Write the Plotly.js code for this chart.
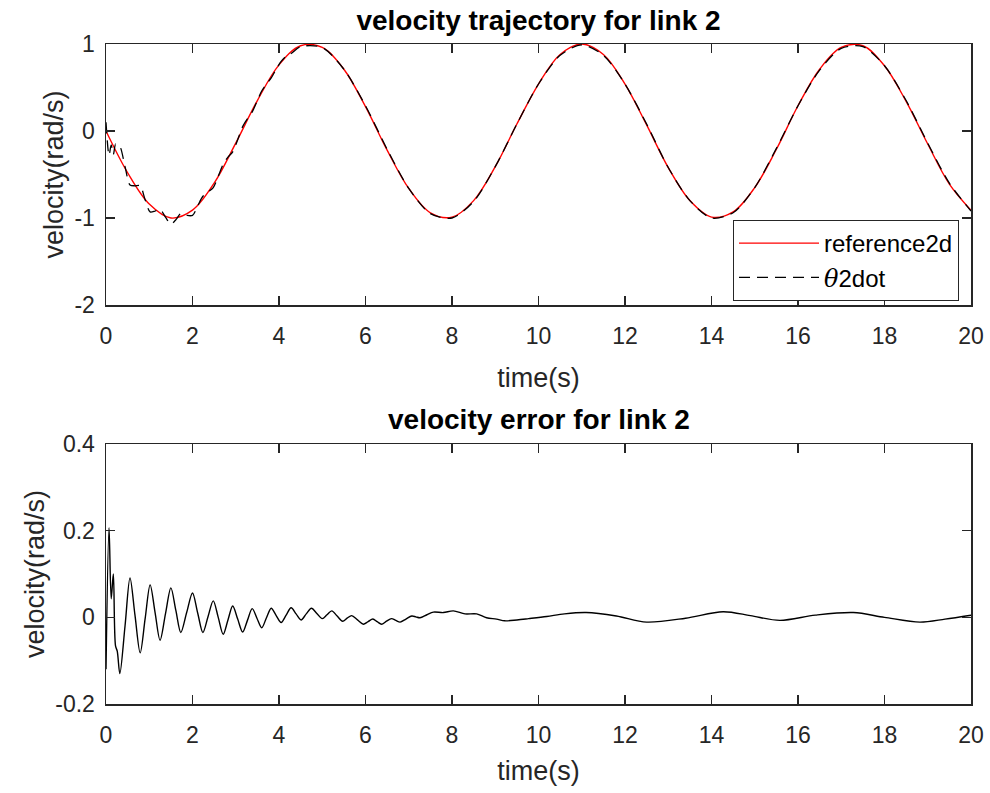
<!DOCTYPE html>
<html>
<head>
<meta charset="utf-8">
<script src="https://cdn.plot.ly/plotly-3.0.1.min.js"></script>
<style>
  html, body { margin: 0; padding: 0; background: #ffffff; }
  #chart { width: 990px; height: 793px; }
</style>
</head>
<body>
<div id="chart"></div>
<script>
// ---- data ----
const refTime = [0,0.5,1,1.5,2,2.5,3,3.5,4,4.5,5,5.5,6,6.5,7,7.5,8,8.5,9,9.5,10,10.5,11,11.5,12,12.5,13,13.5,14,14.5,15,15.5,16,16.5,17,17.5,18,18.5,19,19.5,20];
const reference2d = [0,-0.48,-0.84,-1.00,-0.91,-0.60,-0.14,0.35,0.76,0.98,0.96,0.71,0.28,-0.22,-0.66,-0.94,-0.99,-0.80,-0.41,0.08,0.54,0.88,1.00,0.88,0.54,0.07,-0.42,-0.80,-0.99,-0.93,-0.65,-0.21,0.29,0.71,0.96,0.98,0.75,0.34,-0.15,-0.61,-0.91];

const thetaTime = [0,0.07,0.12,0.17,0.22,0.26,0.32,0.44,0.555,0.67,0.79,0.905,1.02,1.135,1.25,1.375,1.5,1.615,1.73,1.865,2.0,2.12,2.24,2.36,2.48,2.595,2.71,2.82,2.93,3.045,3.16,3.27,3.38,3.49,3.6,3.71,3.82,3.935,4.05,4.165,4.28,4.5,5,5.5,6,6.5,7,7.5,8,8.5,9,9.5,10,10.5,11,11.5,12,12.5,13,13.5,14,14.5,15,15.5,16,16.5,17,17.5,18,18.5,19,19.5,20];
const theta2dot = [0.10,-0.28,-0.16,-0.27,-0.15,-0.18,-0.18,-0.41,-0.62,-0.63,-0.63,-0.79,-0.93,-0.92,-0.90,-0.99,-1.07,-1.02,-0.95,-0.97,-0.97,-0.86,-0.75,-0.70,-0.65,-0.52,-0.38,-0.30,-0.24,-0.10,0.05,0.14,0.22,0.34,0.46,0.54,0.61,0.71,0.80,0.86,0.89,0.97,0.96,0.71,0.29,-0.21,-0.66,-0.95,-1.00,-0.81,-0.41,0.08,0.54,0.87,0.99,0.87,0.54,0.08,-0.42,-0.80,-1.00,-0.94,-0.65,-0.20,0.29,0.70,0.95,0.97,0.75,0.35,-0.14,-0.60,-0.92];

const errTime = [0,0.07,0.12,0.17,0.22,0.26,0.32,0.44,0.555,0.67,0.79,0.905,1.02,1.135,1.25,1.375,1.5,1.615,1.73,1.865,2.0,2.12,2.24,2.36,2.48,2.595,2.71,2.82,2.93,3.045,3.16,3.27,3.38,3.49,3.6,3.71,3.82,3.935,4.05,4.165,4.28,4.395,4.51,4.63,4.75,4.875,5.0,5.11,5.22,5.345,5.47,5.575,5.68,5.815,5.95,6.06,6.17,6.27,6.37,6.485,6.6,6.7,6.8,6.935,7.07,7.165,7.26,7.42,7.57,7.8,8.03,8.3,8.57,8.8,9.03,9.22,9.5,9.77,10.19,10.6,11.1,11.8,12.5,13.4,14.27,14.9,15.58,16.4,17.28,18.0,18.82,19.4,20.0];
const velError = [-0.12,0.207,0.043,0.10,-0.066,-0.078,-0.13,-0.02,0.091,0.005,-0.082,-0.003,0.075,0.011,-0.053,0.008,0.068,0.016,-0.035,0.011,0.056,0.010,-0.035,0.002,0.038,0.0,-0.039,-0.006,0.026,-0.004,-0.034,-0.007,0.020,-0.002,-0.024,-0.001,0.021,0.004,-0.012,0.005,0.022,0.008,-0.006,0.008,0.021,0.009,-0.003,0.006,0.015,0.003,-0.009,-0.002,0.004,-0.006,-0.016,-0.010,-0.004,-0.010,-0.016,-0.009,-0.003,-0.007,-0.011,-0.004,0.003,0.001,-0.001,0.006,0.012,0.011,0.015,0.008,0.008,-0.001,-0.004,-0.008,-0.006,-0.003,0.002,0.008,0.011,0.003,-0.011,-0.002,0.013,0.004,-0.007,0.005,0.011,0.0,-0.011,-0.004,0.005];

const xTickVals = [0,2,4,6,8,10,12,14,16,18,20];
const xTickText = ['0','2','4','6','8','10','12','14','16','18','20'];
const y1TickVals = [-2,-1,0,1];
const y1TickText = ['-2','-1','0','1'];
const y2TickVals = [-0.2,0,0.2,0.4];
const y2TickText = ['-0.2','0','0.2','0.4'];

// ---- chart ----
const FONT = 'Liberation Sans, Arial, Helvetica, sans-serif';
const AX = '#262626';

const traces = [
  { x: refTime, y: reference2d, type: 'scatter', mode: 'lines', name: 'reference2d',
    line: { color: '#ff0000', width: 1.4, shape: 'spline', smoothing: 1 }, xaxis: 'x', yaxis: 'y' },
  { x: thetaTime, y: theta2dot, type: 'scatter', mode: 'lines',
    name: '<span style="font-family:DejaVu Serif;font-style:italic">θ</span>2dot',
    line: { color: '#000000', width: 1.3, dash: '11px,7px', shape: 'spline', smoothing: 0.8 }, xaxis: 'x', yaxis: 'y' },
  { x: errTime, y: velError, type: 'scatter', mode: 'lines', name: 'error', showlegend: false,
    line: { color: '#000000', width: 1.4, shape: 'spline', smoothing: 0.9 }, xaxis: 'x2', yaxis: 'y2' }
];

const H = 793;
function axisBase(standoff) {
  return {
    showline: true, linecolor: AX, linewidth: 1.5, mirror: 'ticks',
    ticks: 'inside', ticklen: 9, tickwidth: 1.5, tickcolor: AX,
    showgrid: false, zeroline: false, ticklabelstandoff: standoff,
    tickfont: { family: FONT, size: 23, color: AX }
  };
}

const layout = {
  width: 990, height: 793,
  paper_bgcolor: '#ffffff', plot_bgcolor: '#ffffff',
  margin: { l: 106, r: 19, t: 0, b: 0 },
  showlegend: true,
  title: { text: 'velocity trajectory for link 2', x: 538.5/990, xanchor: 'center',
           y: 1 - 20/H, yanchor: 'middle', yref: 'container',
           font: { family: FONT, size: 28, color: '#000000', weight: 'bold' } },
  xaxis: Object.assign(axisBase(10), {
    domain: [0, 1], anchor: 'y', range: [0, 20], tickvals: xTickVals, ticktext: xTickText,
    title: { text: 'time(s)', font: { family: FONT, size: 27, color: AX }, standoff: 20 }
  }),
  yaxis: Object.assign(axisBase(5), {
    domain: [1 - 305/H, 1 - 44/H], anchor: 'x', range: [-2, 1], tickvals: y1TickVals, ticktext: y1TickText,
    title: { text: 'velocity(rad/s)', font: { family: FONT, size: 27, color: AX }, standoff: 3 }
  }),
  xaxis2: Object.assign(axisBase(10), {
    domain: [0, 1], anchor: 'y2', range: [0, 20], tickvals: xTickVals, ticktext: xTickText,
    title: { text: 'time(s)', font: { family: FONT, size: 27, color: AX }, standoff: 14 }
  }),
  yaxis2: Object.assign(axisBase(5), {
    domain: [1 - 704/H, 1 - 444/H], anchor: 'x2', range: [-0.2, 0.4], tickvals: y2TickVals, ticktext: y2TickText,
    title: { text: 'velocity(rad/s)', font: { family: FONT, size: 27, color: AX }, standoff: 3 }
  }),
  legend: {
    x: (733 - 106) / 865, y: 1 - 220/H, xanchor: 'left', yanchor: 'top',
    xref: 'paper', yref: 'paper',
    bgcolor: '#ffffff', bordercolor: AX, borderwidth: 1,
    font: { family: FONT, size: 24, color: '#000000' },
    itemwidth: 80, tracegroupgap: 0
  },
  annotations: [
    { text: 'velocity error for link 2', xref: 'paper', yref: 'paper',
      x: 0.5, y: 1 - 419/H, xanchor: 'center', yanchor: 'middle', showarrow: false,
      font: { family: FONT, size: 28, color: '#000000', weight: 'bold' } }
  ]
};

Plotly.newPlot('chart', traces, layout, { displayModeBar: false, staticPlot: true });
</script>
</body>
</html>
